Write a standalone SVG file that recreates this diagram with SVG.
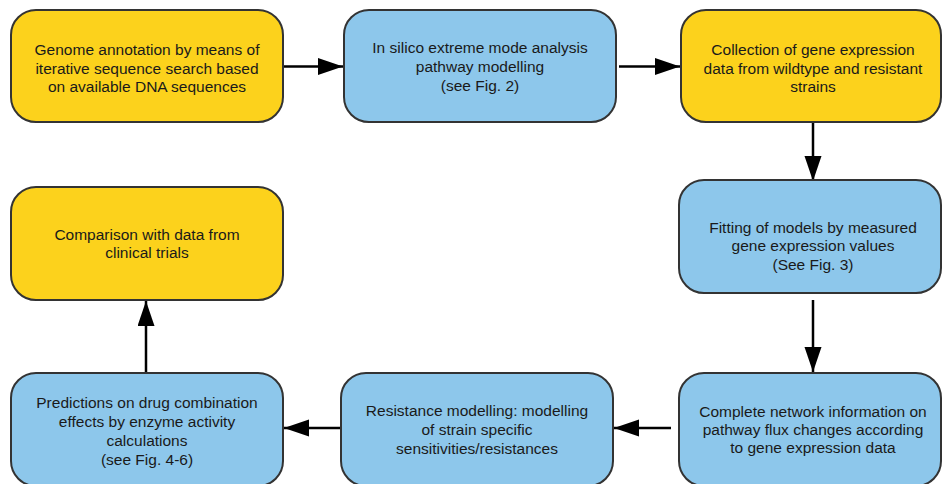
<svg xmlns="http://www.w3.org/2000/svg" width="942" height="484" viewBox="0 0 942 484">
<style>
.y{fill:#FCD21C;stroke:#333;stroke-width:2}
.b{fill:#8DC7EB;stroke:#333;stroke-width:2}
text{font-family:"Liberation Sans",Arial,sans-serif;font-size:15.5px;fill:#1a1a1a;text-anchor:middle}
.c{stroke:#000;stroke-width:2.5;fill:none;marker-end:url(#ah)}
</style>
<defs>
<marker id="ah" markerUnits="userSpaceOnUse" markerWidth="26" markerHeight="18" refX="25" refY="8.5" orient="auto">
<path d="M0,0 L25,8.5 L0,17 z" fill="#000"/>
</marker>
</defs>
<rect width="942" height="484" fill="#fff"/>
<g id="connectors">
<line class="c" x1="284" y1="66.5" x2="343" y2="66.5"/>
<line class="c" x1="619" y1="66.5" x2="680" y2="66.5"/>
<line class="c" x1="813" y1="123" x2="813" y2="181"/>
<line class="c" x1="813" y1="300" x2="813" y2="372"/>
<line class="c" x1="671" y1="428" x2="614" y2="428"/>
<line class="c" x1="341" y1="428" x2="284" y2="428"/>
<line class="c" x1="146" y1="373" x2="146" y2="301"/>
</g>
<g id="n1">
<rect class="y" x="11" y="10" width="272" height="112" rx="25"/>
<text x="147" y="55">Genome annotation by means of</text>
<text x="147" y="73.5">iterative sequence search based</text>
<text x="147" y="92">on available DNA sequences</text>
</g>
<g id="n2">
<rect class="b" x="344" y="10" width="272" height="112" rx="25"/>
<text x="480" y="53">In silico extreme mode analysis</text>
<text x="480" y="72">pathway modelling</text>
<text x="480" y="91">(see Fig. 2)</text>
</g>
<g id="n3">
<rect class="y" x="681" y="10" width="260" height="112" rx="25"/>
<text x="813" y="55">Collection of gene expression</text>
<text x="813" y="73.5">data from wildtype and resistant</text>
<text x="813" y="92">strains</text>
</g>
<g id="n4">
<rect class="b" x="679" y="180" width="262" height="113" rx="25"/>
<text x="813" y="233">Fitting of models by measured</text>
<text x="813" y="251">gene expression values</text>
<text x="813" y="270">(See Fig. 3)</text>
</g>
<g id="n5">
<rect class="b" x="679" y="373" width="262" height="113" rx="25"/>
<text x="813" y="417">Complete network information on</text>
<text x="813" y="435">pathway flux changes according</text>
<text x="813" y="453">to gene expression data</text>
</g>
<g id="n6">
<rect class="b" x="341" y="373" width="272" height="113" rx="25"/>
<text x="477" y="416">Resistance modelling: modelling</text>
<text x="477" y="435">of strain specific</text>
<text x="477" y="454">sensitivities/resistances</text>
</g>
<g id="n7">
<rect class="b" x="11" y="373" width="272" height="113" rx="25"/>
<text x="147" y="408">Predictions on drug combination</text>
<text x="147" y="427">effects by enzyme activity</text>
<text x="147" y="446">calculations</text>
<text x="147" y="465">(see Fig. 4-6)</text>
</g>
<g id="n8">
<rect class="y" x="11" y="187" width="272" height="113" rx="25"/>
<text x="147" y="240">Comparison with data from</text>
<text x="147" y="258">clinical trials</text>
</g>
</svg>
